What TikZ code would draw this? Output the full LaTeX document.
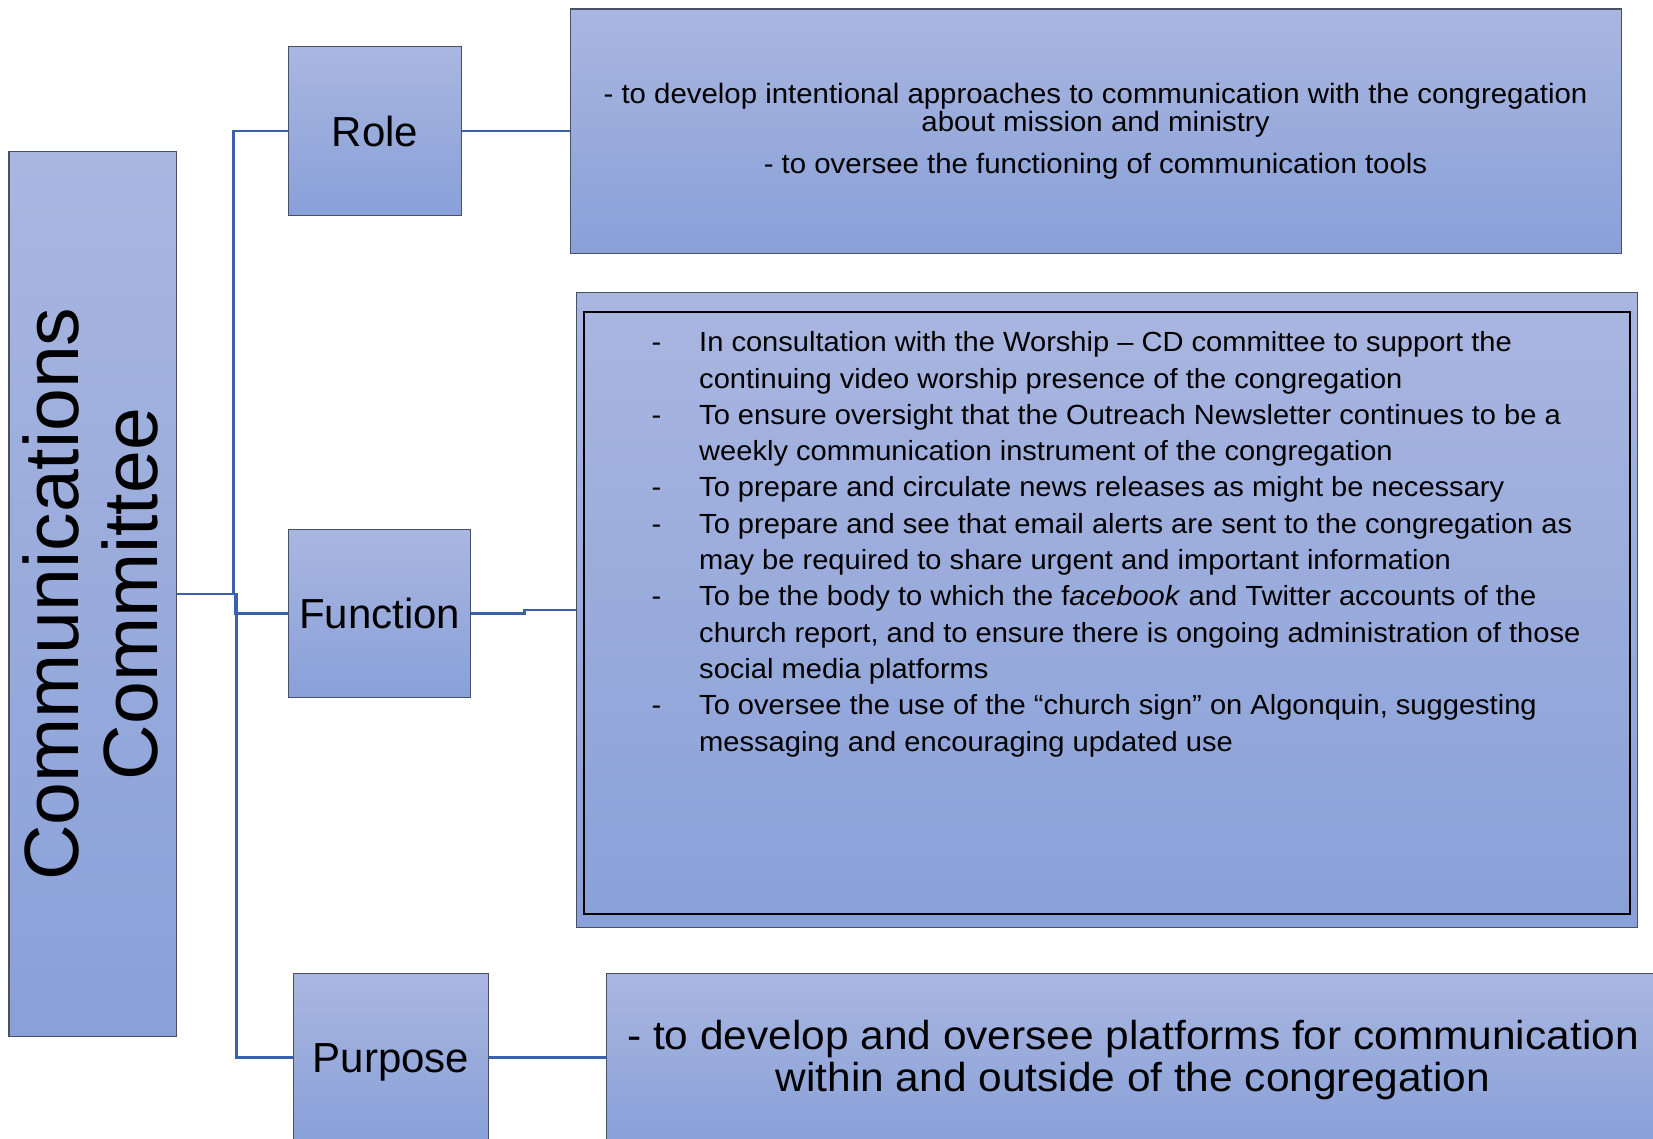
\documentclass[tikz,border=0pt]{standalone}
\usepackage{fontspec}
\setmainfont{Liberation Sans}
\newfontfamily\widefont[FakeStretch=1.05]{Liberation Sans}
\usetikzlibrary{calc}
\definecolor{boxtop}{RGB}{169,182,224}
\definecolor{boxbot}{RGB}{137,160,216}
\definecolor{boxline}{RGB}{72,80,100}
\definecolor{connblue}{RGB}{59,97,172}
\begin{document}
\begin{tikzpicture}[x=1pt,y=-1pt,
  box/.style={draw=boxline, line width=1.3pt, top color=boxtop, bottom color=boxbot, inner sep=0pt, anchor=north west},
  lbl/.style={font=\fontsize{42pt}{48pt}\selectfont, text depth=0pt},
  conn/.style={draw=connblue, line width=2.6pt},
  fline/.style={anchor=base west, inner sep=0pt, font=\widefont\fontsize{27.7pt}{36.3pt}\selectfont},
  rline/.style={anchor=base, inner sep=0pt, font=\widefont\fontsize{28pt}{28.4pt}\selectfont},
  pline/.style={anchor=base, inner sep=0pt, font=\widefont\fontsize{40.4pt}{42pt}\selectfont}
]
\clip (0,0) rectangle (1653,1139);
\fill[white] (0,0) rectangle (1653,1139);

% boxes
\node[box, minimum width=167.6pt, minimum height=885pt] (root) at (8.4,151) {};
\node[box, lbl, minimum width=173pt, minimum height=169pt] (role) at (288,46) {Role};
\node[box, lbl, minimum width=182pt, minimum height=168pt] (function) at (288,529) {Function};
\node[box, lbl, minimum width=195pt, minimum height=168pt] (purpose) at (293,973) {Purpose};
\node[box, minimum width=1051pt, minimum height=244.6pt] (roletext) at (570,8.4) {};
\node[box, minimum width=1061pt, minimum height=635pt] (functext) at (576,292) {};
\node[box, minimum width=1054pt, minimum height=168pt] (purposetext) at (606,973) {};
\draw[black, line width=1.3pt] (584,312) rectangle (1630,914);

% connectors
\draw[conn] (root.east) -- ++(56,0) |- (role.west);
\draw[conn] (root.east) -- ++(58,0) |- (function.west);
\draw[conn] (root.east) -- ++(59,0) |- (purpose.west);
\draw[conn] (role.east) -- (role.east -| roletext.west);
\draw[conn] (function.east) -- ++(53,0) |- (functext.west);
\draw[conn] (purpose.east) -- (purpose.east -| purposetext.west);

% root label
\node[rotate=90, align=center, inner sep=0pt, font=\fontsize{77pt}{79pt}\selectfont] (rootlabel) at ($(root.center)+(-2,0)$) {Communications\\Committee};

% role text
\node[rline] (r1) at (1095.5,103.3) {- to develop intentional approaches to communication with the congregation};
\node[rline] (r2) at (1095.5,131.7) {about mission and ministry};
\node[rline] (r3) at (1095.5,173.3) {- to oversee the functioning of communication tools};

% function text
\node[fline] (b1) at (651.5,351.7) {-};
\node[fline] (b3) at (651.5,424.3) {-};
\node[fline] (b5) at (651.5,496.9) {-};
\node[fline] (b6) at (651.5,533.2) {-};
\node[fline] (b8) at (651.5,605.8) {-};
\node[fline] (b11) at (651.5,714.7) {-};
\node[fline] (f1) at (699,351.7) {In consultation with the Worship – CD committee to support the};
\node[fline] (f2) at (699,388.0) {continuing video worship presence of the congregation};
\node[fline] (f3) at (699,424.3) {To ensure oversight that the Outreach Newsletter continues to be a};
\node[fline] (f4) at (699,460.6) {weekly communication instrument of the congregation};
\node[fline] (f5) at (699,496.9) {To prepare and circulate news releases as might be necessary};
\node[fline] (f6) at (699,533.2) {To prepare and see that email alerts are sent to the congregation as};
\node[fline] (f7) at (699,569.5) {may be required to share urgent and important information};
\node[fline] (f8) at (699,605.8) {To be the body to which the f\textit{acebook} and Twitter accounts of the};
\node[fline] (f9) at (699,642.1) {church report, and to ensure there is ongoing administration of those};
\node[fline] (f10) at (699,678.4) {social media platforms};
\node[fline] (f11) at (699,714.7) {To oversee the use of the “church sign” on Algonquin, suggesting};
\node[fline] (f12) at (699,751.0) {messaging and encouraging updated use};

% purpose text
\node[pline] (p1) at (1133,1049) {- to develop and oversee platforms for communication};
\node[pline] (p2) at (1133,1091) {within and outside of the congregation};
\end{tikzpicture}
\end{document}
